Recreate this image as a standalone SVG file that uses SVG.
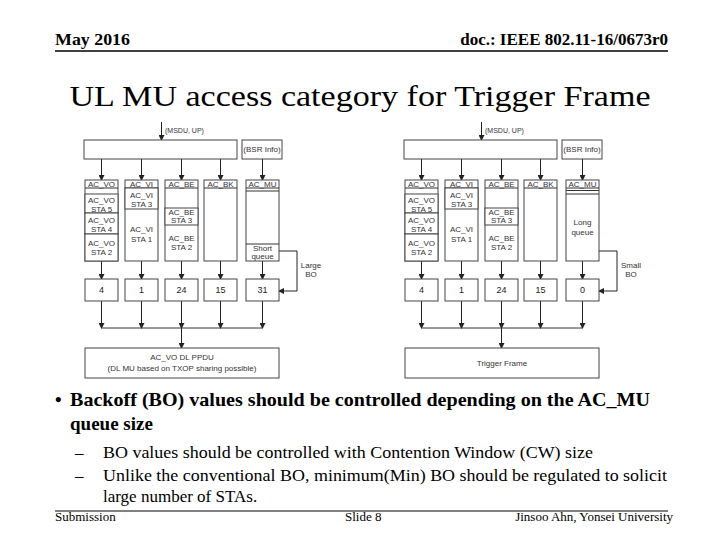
<svg xmlns="http://www.w3.org/2000/svg" width="720" height="540" viewBox="0 0 720 540">
<defs>
<marker id="ah" markerWidth="6" markerHeight="6" refX="5" refY="3" orient="auto" markerUnits="userSpaceOnUse">
<path d="M0,0 L6,3 L0,6 Z" fill="#222"/>
</marker>
<style>
.hdr{font-family:"Liberation Serif",serif;font-weight:bold;font-size:17px;fill:#000}
.ftr{font-family:"Liberation Serif",serif;font-size:13px;fill:#000}
.title{font-family:"Liberation Serif",serif;font-size:29px;fill:#000}
.b1{font-family:"Liberation Serif",serif;font-weight:bold;font-size:19px;fill:#000}
.b2{font-family:"Liberation Serif",serif;font-size:17px;fill:#000}
.box{fill:#fff;stroke:#444;stroke-width:1}
.ln{fill:none;stroke:#333;stroke-width:1}
.arr{fill:none;stroke:#222;stroke-width:1;marker-end:url(#ah)}
.t{font-family:"Liberation Sans",sans-serif;font-size:8px;fill:#333;text-anchor:middle}
.tl{font-family:"Liberation Sans",sans-serif;font-size:7px;fill:#333}
.num{font-family:"Liberation Sans",sans-serif;font-size:9px;fill:#222;text-anchor:middle}
</style>
</defs>
<rect width="720" height="540" fill="#fff"/>

<g id="header">
<text class="hdr" x="55" y="45" textLength="75" lengthAdjust="spacingAndGlyphs">May 2016</text>
<text class="hdr" x="668" y="45" text-anchor="end">doc.: IEEE 802.11-16/0673r0</text>
<line x1="55" y1="51" x2="668" y2="51" stroke="#000" stroke-width="1.5"/>
</g>

<text class="title" x="360" y="106" text-anchor="middle" textLength="581" lengthAdjust="spacingAndGlyphs">UL MU access category for Trigger Frame</text>

<!-- Left diagram -->
<g id="diagramA">
<g id="A-connectors">
<line class="arr" x1="161.5" y1="122" x2="161.5" y2="140"/>
<line class="arr" x1="101.5" y1="159" x2="101.5" y2="180"/>
<line class="arr" x1="141.5" y1="159" x2="141.5" y2="180"/>
<line class="arr" x1="181.5" y1="159" x2="181.5" y2="180"/>
<line class="arr" x1="220.5" y1="159" x2="220.5" y2="180"/>
<line class="arr" x1="262.5" y1="159" x2="262.5" y2="180"/>
<line class="arr" x1="101.5" y1="261" x2="101.5" y2="279"/>
<line class="arr" x1="141.5" y1="261" x2="141.5" y2="279"/>
<line class="arr" x1="181.5" y1="261" x2="181.5" y2="279"/>
<line class="arr" x1="220.5" y1="261" x2="220.5" y2="279"/>
<line class="arr" x1="262.5" y1="261" x2="262.5" y2="279"/>
<line class="arr" x1="101.5" y1="301" x2="101.5" y2="328"/>
<line class="arr" x1="141.5" y1="301" x2="141.5" y2="328"/>
<line class="arr" x1="181.5" y1="301" x2="181.5" y2="328"/>
<line class="arr" x1="220.5" y1="301" x2="220.5" y2="328"/>
<line class="arr" x1="262.5" y1="301" x2="262.5" y2="328"/>
<line class="ln" x1="101.5" y1="328" x2="262.5" y2="328"/>
<line class="arr" x1="181.5" y1="328" x2="181.5" y2="348"/>
<path class="arr" d="M279,251 H297 V291 H279"/>
</g>
<text class="tl" x="165" y="133">(MSDU, UP)</text>
<g id="A-classifier"><rect class="box" x="84" y="140" width="153" height="19"/></g>
<g id="A-bsr"><rect class="box" x="242" y="140" width="40" height="19"/><text class="t" x="262" y="152" font-size="7">(BSR Info)</text></g>

<g id="A-vo">
<rect class="box" x="85" y="180" width="33" height="81"/>
<line class="ln" x1="85" y1="188" x2="118" y2="188"/>
<text class="t" x="101.5" y="187">AC_VO</text>
<rect class="box" x="85" y="194" width="33" height="19"/>
<text class="t" x="101.5" y="203">AC_VO</text><text class="t" x="101.5" y="211.5">STA 5</text>
<rect class="box" x="85" y="213" width="33" height="21"/>
<text class="t" x="101.5" y="222.5">AC_VO</text><text class="t" x="101.5" y="231.5">STA 4</text>
<rect class="box" x="85" y="234" width="33" height="27"/>
<text class="t" x="101.5" y="246">AC_VO</text><text class="t" x="101.5" y="255">STA 2</text>
</g>
<g id="A-vi">
<rect class="box" x="125" y="180" width="33" height="81"/>
<line class="ln" x1="125" y1="188" x2="158" y2="188"/>
<text class="t" x="141.5" y="187">AC_VI</text>
<rect class="box" x="125" y="188" width="33" height="21"/>
<text class="t" x="141.5" y="197.5">AC_VI</text><text class="t" x="141.5" y="206.5">STA 3</text>
<text class="t" x="141.5" y="232">AC_VI</text><text class="t" x="141.5" y="242">STA 1</text>
</g>
<g id="A-be">
<rect class="box" x="165" y="180" width="33" height="81"/>
<line class="ln" x1="165" y1="188" x2="198" y2="188"/>
<text class="t" x="181.5" y="187">AC_BE</text>
<rect class="box" x="165" y="208" width="33" height="17"/>
<text class="t" x="181.5" y="215">AC_BE</text><text class="t" x="181.5" y="222.5">STA 3</text>
<text class="t" x="181.5" y="241">AC_BE</text><text class="t" x="181.5" y="250">STA 2</text>
</g>
<g id="A-bk">
<rect class="box" x="204" y="180" width="33" height="81"/>
<line class="ln" x1="204" y1="188" x2="237" y2="188"/>
<text class="t" x="220.5" y="187">AC_BK</text>
</g>
<g id="A-mu">
<rect class="box" x="246" y="180" width="33" height="81"/>
<line class="ln" x1="246" y1="188" x2="279" y2="188"/>
<line class="ln" x1="246" y1="191" x2="279" y2="191"/>
<text class="t" x="262.5" y="187">AC_MU</text>
<line class="ln" x1="246" y1="244" x2="279" y2="244"/>
<text class="t" x="262.5" y="251">Short</text><text class="t" x="262.5" y="259">queue</text>
</g>
<text class="t" x="311" y="268">Large</text><text class="t" x="311" y="277">BO</text>

<g id="A-bo4"><rect class="box" x="85" y="279" width="33" height="22"/><text class="num" x="101.5" y="293">4</text></g>
<g id="A-bo1"><rect class="box" x="125" y="279" width="33" height="22"/><text class="num" x="141.5" y="293">1</text></g>
<g id="A-bo24"><rect class="box" x="165" y="279" width="33" height="22"/><text class="num" x="181.5" y="293">24</text></g>
<g id="A-bo15"><rect class="box" x="204" y="279" width="33" height="22"/><text class="num" x="220.5" y="293">15</text></g>
<g id="A-bo31"><rect class="box" x="246" y="279" width="33" height="22"/><text class="num" x="262.5" y="293">31</text></g>

<g id="A-ppdu"><rect class="box" x="85" y="348" width="194" height="30"/>
<text class="t" x="182" y="360">AC_VO DL PPDU</text>
<text class="t" x="182" y="371">(DL MU based on TXOP sharing possible)</text></g>
</g>

<!-- Right diagram -->
<g id="diagramB" transform="translate(320,0)">
<g id="B-connectors">
<line class="arr" x1="161.5" y1="122" x2="161.5" y2="140"/>
<line class="arr" x1="101.5" y1="159" x2="101.5" y2="180"/>
<line class="arr" x1="141.5" y1="159" x2="141.5" y2="180"/>
<line class="arr" x1="181.5" y1="159" x2="181.5" y2="180"/>
<line class="arr" x1="220.5" y1="159" x2="220.5" y2="180"/>
<line class="arr" x1="262.5" y1="159" x2="262.5" y2="180"/>
<line class="arr" x1="101.5" y1="261" x2="101.5" y2="279"/>
<line class="arr" x1="141.5" y1="261" x2="141.5" y2="279"/>
<line class="arr" x1="181.5" y1="261" x2="181.5" y2="279"/>
<line class="arr" x1="220.5" y1="261" x2="220.5" y2="279"/>
<line class="arr" x1="262.5" y1="261" x2="262.5" y2="279"/>
<line class="arr" x1="101.5" y1="301" x2="101.5" y2="328"/>
<line class="arr" x1="141.5" y1="301" x2="141.5" y2="328"/>
<line class="arr" x1="181.5" y1="301" x2="181.5" y2="328"/>
<line class="arr" x1="220.5" y1="301" x2="220.5" y2="328"/>
<line class="arr" x1="262.5" y1="301" x2="262.5" y2="328"/>
<line class="ln" x1="101.5" y1="328" x2="262.5" y2="328"/>
<line class="arr" x1="181.5" y1="328" x2="181.5" y2="348"/>
<path class="arr" d="M279,251 H297 V291 H279"/>
</g>
<text class="tl" x="165" y="133">(MSDU, UP)</text>
<g id="B-classifier"><rect class="box" x="84" y="140" width="153" height="19"/></g>
<g id="B-bsr"><rect class="box" x="242" y="140" width="40" height="19"/><text class="t" x="262" y="152" font-size="7">(BSR Info)</text></g>

<g id="B-vo">
<rect class="box" x="85" y="180" width="33" height="81"/>
<line class="ln" x1="85" y1="188" x2="118" y2="188"/>
<text class="t" x="101.5" y="187">AC_VO</text>
<rect class="box" x="85" y="194" width="33" height="19"/>
<text class="t" x="101.5" y="203">AC_VO</text><text class="t" x="101.5" y="211.5">STA 5</text>
<rect class="box" x="85" y="213" width="33" height="21"/>
<text class="t" x="101.5" y="222.5">AC_VO</text><text class="t" x="101.5" y="231.5">STA 4</text>
<rect class="box" x="85" y="234" width="33" height="27"/>
<text class="t" x="101.5" y="246">AC_VO</text><text class="t" x="101.5" y="255">STA 2</text>
</g>
<g id="B-vi">
<rect class="box" x="125" y="180" width="33" height="81"/>
<line class="ln" x1="125" y1="188" x2="158" y2="188"/>
<text class="t" x="141.5" y="187">AC_VI</text>
<rect class="box" x="125" y="188" width="33" height="21"/>
<text class="t" x="141.5" y="197.5">AC_VI</text><text class="t" x="141.5" y="206.5">STA 3</text>
<text class="t" x="141.5" y="232">AC_VI</text><text class="t" x="141.5" y="242">STA 1</text>
</g>
<g id="B-be">
<rect class="box" x="165" y="180" width="33" height="81"/>
<line class="ln" x1="165" y1="188" x2="198" y2="188"/>
<text class="t" x="181.5" y="187">AC_BE</text>
<rect class="box" x="165" y="208" width="33" height="17"/>
<text class="t" x="181.5" y="215">AC_BE</text><text class="t" x="181.5" y="222.5">STA 3</text>
<text class="t" x="181.5" y="241">AC_BE</text><text class="t" x="181.5" y="250">STA 2</text>
</g>
<g id="B-bk">
<rect class="box" x="204" y="180" width="33" height="81"/>
<line class="ln" x1="204" y1="188" x2="237" y2="188"/>
<text class="t" x="220.5" y="187">AC_BK</text>
</g>
<g id="B-mu">
<rect class="box" x="246" y="180" width="33" height="81"/>
<line class="ln" x1="246" y1="188" x2="279" y2="188"/>
<line class="ln" x1="246" y1="190.5" x2="279" y2="190.5"/>
<line class="ln" x1="246" y1="194" x2="279" y2="194"/>
<text class="t" x="262.5" y="187">AC_MU</text>
<text class="t" x="262.5" y="225" font-size="9">Long</text><text class="t" x="262.5" y="235">queue</text>
</g>
<text class="t" x="311" y="268">Small</text><text class="t" x="311" y="277">BO</text>

<g id="B-bo4"><rect class="box" x="85" y="279" width="33" height="22"/><text class="num" x="101.5" y="293">4</text></g>
<g id="B-bo1"><rect class="box" x="125" y="279" width="33" height="22"/><text class="num" x="141.5" y="293">1</text></g>
<g id="B-bo24"><rect class="box" x="165" y="279" width="33" height="22"/><text class="num" x="181.5" y="293">24</text></g>
<g id="B-bo15"><rect class="box" x="204" y="279" width="33" height="22"/><text class="num" x="220.5" y="293">15</text></g>
<g id="B-bo0"><rect class="box" x="246" y="279" width="33" height="22"/><text class="num" x="262.5" y="293">0</text></g>

<g id="B-trigger"><rect class="box" x="85" y="348" width="194" height="30"/>
<text class="t" x="182" y="366">Trigger Frame</text></g>
</g>

<g id="bullets">
<text class="b1" x="55" y="406">•</text>
<text class="b1" x="70" y="406" textLength="580" lengthAdjust="spacingAndGlyphs">Backoff (BO) values should be controlled depending on the AC_MU</text>
<text class="b1" x="70" y="430">queue size</text>
<text class="b2" x="75" y="458">–</text>
<text class="b2" x="103" y="458" textLength="490" lengthAdjust="spacingAndGlyphs">BO values should be controlled with Contention Window (CW) size</text>
<text class="b2" x="75" y="481">–</text>
<text class="b2" x="103" y="481" textLength="564" lengthAdjust="spacingAndGlyphs">Unlike the conventional BO, minimum(Min) BO should be regulated to solicit</text>
<text class="b2" x="103" y="502">large number of STAs.</text>
</g>

<g id="footer">
<line x1="55" y1="511" x2="668" y2="511" stroke="#000" stroke-width="1"/>
<text class="ftr" x="55" y="521">Submission</text>
<text class="ftr" x="345" y="521">Slide 8</text>
<text class="ftr" x="673" y="521" text-anchor="end">Jinsoo Ahn, Yonsei University</text>
</g>
</svg>
